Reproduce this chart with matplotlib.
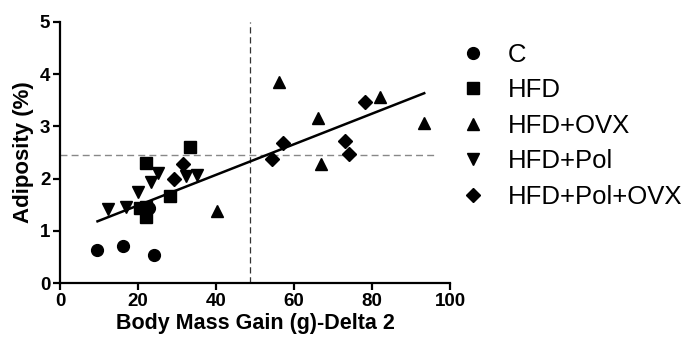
import matplotlib
matplotlib.use("Agg")
import matplotlib.pyplot as plt
import numpy as np

plt.rcParams['font.family'] = ['Liberation Sans', 'DejaVu Sans']

# === Data ===
c_x = [9.6, 16.1, 24.1, 22.8]
c_y = [0.64, 0.71, 0.54, 1.44]

hfd_x = [22.1, 33.4, 28.3, 22.1, 20.6, 22.0]
hfd_y = [2.29, 2.61, 1.66, 1.27, 1.43, 1.45]

ovx_x = [56.1, 66.1, 82.1, 93.3, 66.9, 40.1]
ovx_y = [3.85, 3.15, 3.57, 3.07, 2.27, 1.38]

pol_x = [12.2, 16.8, 20.0, 23.3, 25.1, 32.2, 35.1]
pol_y = [1.41, 1.45, 1.75, 1.94, 2.11, 2.05, 2.07]

polovx_x = [29.3, 31.6, 54.4, 57.2, 73.1, 74.1, 78.2]
polovx_y = [1.99, 2.27, 2.37, 2.69, 2.72, 2.47, 3.46]

labels = ["C", "HFD", "HFD+OVX", "HFD+Pol", "HFD+Pol+OVX"]

fit_slope = 0.0293
fit_intercept = 0.90
fit_range = [9.6, 93.3]

mean_x = 48.6
mean_y = 2.45

# === Figure ===
fig = plt.figure(figsize=(6.86, 3.41), dpi=100)
ax = fig.add_axes([0.0875, 0.170, 0.569, 0.766])

groups = [
    (c_x, c_y, 'o', 8.5),
    (hfd_x, hfd_y, 's', 8),
    (ovx_x, ovx_y, '^', 8.5),
    (pol_x, pol_y, 'v', 8.5),
    (polovx_x, polovx_y, 'D', 7.5),
]
handles = []
for (gx, gy, m, ms), lab in zip(groups, labels):
    h, = ax.plot(gx, gy, linestyle='none', marker=m, markersize=ms,
                 color='black', label=lab, zorder=3)
    handles.append(h)

fx = np.array(fit_range)
ax.plot(fx, fit_intercept + fit_slope * fx, color='black', lw=1.8, zorder=2)

ax.plot([0, 96.6], [mean_y, mean_y], color='#888888', lw=1.0, dashes=(5, 3), zorder=1)
ax.plot([mean_x, mean_x], [0, 5], color='#333333', lw=0.9, dashes=(5, 3), zorder=1)

ax.set_xlim(0, 100)
ax.set_ylim(0, 5)
ax.set_xticks([0, 20, 40, 60, 80, 100])
ax.set_yticks([0, 1, 2, 3, 4, 5])

for s in ['top', 'right']:
    ax.spines[s].set_visible(False)
for s in ['left', 'bottom']:
    ax.spines[s].set_linewidth(1.6)
ax.tick_params(width=1.6, length=5, labelsize=13.5, pad=2)
for t in ax.get_xticklabels() + ax.get_yticklabels():
    t.set_fontweight('bold')

ax.set_xlabel("Body Mass Gain (g)-Delta 2", fontsize=15.5, fontweight='bold', labelpad=2)
ax.set_ylabel("Adiposity (%)", fontsize=16, fontweight='bold', labelpad=4)

fig.legend(handles=handles, loc='upper left', bbox_to_anchor=(0.665, 0.905),
           frameon=False, fontsize=18.5, handlelength=0.5, handletextpad=1.1,
           labelspacing=0.45, borderaxespad=0)

fig.savefig("out.png", dpi=100)
